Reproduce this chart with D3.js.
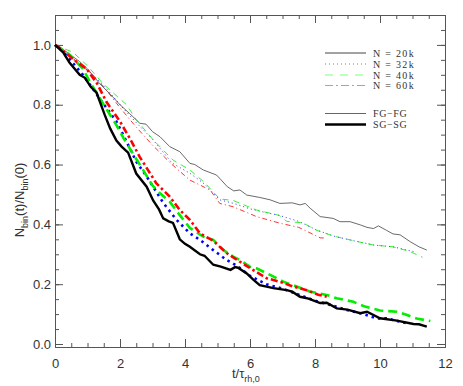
<!DOCTYPE html>
<html><head><meta charset="utf-8">
<script src="https://cdn.jsdelivr.net/npm/d3@7"></script>
<style>body{margin:0;background:#fff}svg{display:block}</style>
</head><body>
<script>
// ---- data ----
const xTicks = [0, 2, 4, 6, 8, 10, 12];
const yTicks = [0.0, 0.2, 0.4, 0.6, 0.8, 1.0];
const legendLabels = ["N = 20k", "N = 32k", "N = 40k", "N = 60k"];
const popLabels = ["FG\u2212FG", "SG\u2212SG"];

// FG-FG (thin) curves: [t, Nbin(t)/Nbin(0)]
const fg20 = [[0,1.0],[0.25,0.985],[0.5,0.965],[0.76,0.944],[1.0,0.92],[1.38,0.87],[1.7,0.835],[2.0,0.8],[2.3,0.77],[2.61,0.738],[2.8,0.735],[3.0,0.71],[3.23,0.693],[3.53,0.66],[3.84,0.643],[4.15,0.604],[4.3,0.6],[4.56,0.582],[4.97,0.565],[5.1,0.55],[5.3,0.526],[5.5,0.512],[5.69,0.515],[5.9,0.498],[6.3,0.49],[6.62,0.482],[6.92,0.47],[7.3,0.472],[7.54,0.465],[7.7,0.47],[7.85,0.454],[8.16,0.426],[8.56,0.42],[8.77,0.409],[9.08,0.409],[9.4,0.398],[9.6,0.39],[9.8,0.386],[9.95,0.395],[10.2,0.38],[10.4,0.368],[10.62,0.365],[10.93,0.342],[11.2,0.325],[11.44,0.314]];
const fg32 = [[0,1.0],[0.5,0.96],[1.0,0.915],[1.5,0.865],[2.0,0.8],[2.5,0.74],[3.0,0.685],[3.6,0.605],[4.15,0.571],[4.6,0.535],[5.07,0.482],[5.5,0.47],[6.0,0.452],[6.3,0.444],[6.9,0.43],[7.5,0.41],[8.05,0.381],[8.6,0.36],[9.2,0.345],[9.8,0.331],[10.4,0.325],[11.03,0.309]];
const fg40 = [[0,1.0],[0.56,0.975],[1.0,0.93],[1.48,0.87],[2.2,0.8],[2.5,0.75],[3.0,0.685],[3.63,0.615],[4.15,0.582],[4.6,0.54],[5.07,0.485],[5.48,0.48],[6.2,0.448],[6.9,0.43],[7.13,0.41],[7.63,0.405],[8.05,0.38],[8.6,0.36],[9.2,0.345],[9.8,0.331],[10.4,0.325],[10.9,0.31],[11.31,0.29]];
const fg60 = [[0,1.0],[0.5,0.955],[1.07,0.91],[1.5,0.86],[2.0,0.79],[2.5,0.725],[3.0,0.665],[3.6,0.6],[4.15,0.548],[4.77,0.515],[5.07,0.47],[5.48,0.459],[6.2,0.426],[6.92,0.404],[7.5,0.39],[8.16,0.355],[8.36,0.354]];

// SG-SG (thick) curves
const sg20 = [[0,1.0],[0.25,0.975],[0.45,0.94],[0.76,0.9],[0.92,0.89],[1.1,0.86],[1.28,0.84],[1.53,0.766],[1.7,0.72],[1.89,0.68],[2.05,0.66],[2.25,0.64],[2.5,0.57],[2.82,0.526],[3.02,0.48],[3.2,0.45],[3.33,0.42],[3.5,0.41],[3.63,0.405],[3.84,0.35],[4.0,0.335],[4.15,0.325],[4.46,0.3],[4.6,0.295],[4.87,0.265],[5.1,0.259],[5.4,0.248],[5.54,0.257],[5.63,0.255],[5.9,0.236],[6.1,0.215],[6.3,0.197],[6.72,0.187],[7.13,0.18],[7.3,0.175],[7.54,0.158],[7.8,0.152],[8.16,0.137],[8.36,0.138],[8.67,0.119],[9.0,0.115],[9.39,0.103],[9.6,0.108],[10.0,0.086],[10.52,0.078],[11.03,0.067],[11.2,0.066],[11.44,0.058]];
const sg32 = [[0,1.0],[0.25,0.978],[0.86,0.9],[1.38,0.82],[1.89,0.744],[2.2,0.677],[2.5,0.61],[2.82,0.56],[3.33,0.472],[3.74,0.415],[4.15,0.37],[4.46,0.348],[4.87,0.314],[5.28,0.281],[5.59,0.262],[6.0,0.228],[6.5,0.2],[7.0,0.185],[7.5,0.165],[8.0,0.145],[8.5,0.13],[8.98,0.114],[9.5,0.1],[9.9,0.085],[10.2,0.086],[10.5,0.078],[10.83,0.069]];
const sg40 = [[0,1.0],[0.45,0.967],[0.86,0.92],[1.07,0.877],[1.5,0.8],[1.89,0.732],[2.1,0.69],[2.3,0.654],[2.71,0.582],[3.0,0.53],[3.23,0.504],[3.53,0.476],[3.84,0.431],[4.15,0.388],[4.56,0.359],[4.87,0.348],[5.18,0.314],[5.48,0.292],[5.7,0.28],[6.0,0.258],[6.2,0.253],[6.62,0.231],[7.03,0.208],[7.44,0.192],[7.85,0.175],[8.36,0.164],[8.67,0.153],[9.18,0.141],[9.54,0.125],[10.0,0.112],[10.52,0.108],[10.83,0.097],[11.13,0.085],[11.55,0.077]];
const sg60 = [[0,1.0],[0.14,0.99],[0.66,0.944],[0.97,0.92],[1.3,0.87],[1.58,0.81],[2.0,0.744],[2.3,0.688],[2.61,0.625],[3.12,0.537],[3.53,0.493],[3.84,0.448],[4.15,0.415],[4.46,0.37],[4.87,0.345],[5.28,0.304],[5.69,0.275],[6.1,0.247],[6.51,0.22],[6.92,0.208],[7.33,0.192],[7.75,0.18],[8.1,0.165],[8.36,0.158]];

// ---- layout ----
const W = 463, H = 386;
const x = d3.scaleLinear().domain([0, 12]).range([55, 445]);
const y = d3.scaleLinear().domain([-0.01, 1.1]).range([347, 15]);

const svg = d3.select("body").append("svg").attr("width", W).attr("height", H);

const axisColor = "#555";
const tickFont = "'Liberation Sans', Arial, sans-serif";

function styleAxis(g) {
  g.select(".domain").attr("stroke", axisColor).attr("stroke-width", 1);
  g.selectAll(".tick line").attr("stroke", axisColor).attr("stroke-width", 1);
  g.selectAll(".tick text").attr("fill", "#333").style("font-family", tickFont).style("font-size", "13px");
}
const xMinor = d3.range(0, 12.01, 0.5);
const yMinor = d3.range(0, 1.101, 0.05);

// bottom
svg.append("g").attr("transform", `translate(0,${y.range()[0]})`)
  .call(d3.axisBottom(x).tickValues(xMinor).tickSize(-4).tickFormat("").tickSizeOuter(0)).call(styleAxis);
svg.append("g").attr("transform", `translate(0,${y.range()[0]})`)
  .call(d3.axisBottom(x).tickValues(xTicks).tickSize(-8).tickPadding(12).tickFormat(d3.format("d")).tickSizeOuter(0)).call(styleAxis);
// top
svg.append("g").attr("transform", `translate(0,${y.range()[1]})`)
  .call(d3.axisTop(x).tickValues(xMinor).tickSize(-4).tickFormat("").tickSizeOuter(0)).call(styleAxis);
svg.append("g").attr("transform", `translate(0,${y.range()[1]})`)
  .call(d3.axisTop(x).tickValues(xTicks).tickSize(-8).tickFormat("").tickSizeOuter(0)).call(styleAxis);
// left
svg.append("g").attr("transform", `translate(${x.range()[0]},0)`)
  .call(d3.axisLeft(y).tickValues(yMinor).tickSize(-4).tickFormat("").tickSizeOuter(0)).call(styleAxis);
svg.append("g").attr("transform", `translate(${x.range()[0]},0)`)
  .call(d3.axisLeft(y).tickValues(yTicks).tickSize(-8).tickPadding(4).tickFormat(d3.format(".1f")).tickSizeOuter(0)).call(styleAxis);
// right
svg.append("g").attr("transform", `translate(${x.range()[1]},0)`)
  .call(d3.axisRight(y).tickValues(yMinor).tickSize(-4).tickFormat("").tickSizeOuter(0)).call(styleAxis);
svg.append("g").attr("transform", `translate(${x.range()[1]},0)`)
  .call(d3.axisRight(y).tickValues(yTicks).tickSize(-8).tickFormat("").tickSizeOuter(0)).call(styleAxis);

// ---- curves ----
const line = d3.line().x(d => x(d[0])).y(d => y(d[1]));
const thinStyles = [
  {data: fg20, color: "#444", dash: null},
  {data: fg32, color: "#0000ff", dash: "1,3"},
  {data: fg40, color: "#00ee00", dash: "6,5"},
  {data: fg60, color: "#ff0000", dash: "5,3,1,3"}
];
const thickStyles = [
  {data: sg20, color: "#000", dash: null},
  {data: sg32, color: "#0000ff", dash: "2.5,4"},
  {data: sg40, color: "#00ee00", dash: "9,5"},
  {data: sg60, color: "#ff0000", dash: "7,3,2.5,3"}
];
const plot = svg.append("g");
thinStyles.forEach(s => {
  plot.append("path").attr("d", line(s.data)).attr("fill", "none")
    .attr("stroke", s.color).attr("stroke-width", 0.8)
    .attr("stroke-dasharray", s.dash);
});
thickStyles.slice(1).forEach(s => {
  plot.append("path").attr("d", line(s.data)).attr("fill", "none")
    .attr("stroke", s.color).attr("stroke-width", 2.6)
    .attr("stroke-dasharray", s.dash);
});
plot.append("path").attr("d", line(thickStyles[0].data)).attr("fill", "none")
  .attr("stroke", "#000").attr("stroke-width", 2.4);

// ---- legend ----
const legFont = "'Liberation Serif', 'DejaVu Serif', serif";
const leg = svg.append("g");
const legColors = ["#444", "#6a6aff", "#7dff7d", "#ff8080"];
const legDash = [null, "1,3", "8,7", "8,3,2,3"];
const legY = [53, 64, 75, 85.5];
legendLabels.forEach((t, i) => {
  leg.append("line").attr("x1", 325).attr("x2", 366).attr("y1", legY[i]).attr("y2", legY[i])
    .attr("stroke", legColors[i]).attr("stroke-width", 1).attr("stroke-dasharray", legDash[i]);
  leg.append("text").attr("x", 373).attr("y", legY[i] + 3.5).text(t)
    .style("font-family", legFont).style("font-size", "10px").style("letter-spacing", "1.3px")
    .attr("fill", "#333");
});
const popY = [113.5, 124.5];
popLabels.forEach((t, i) => {
  leg.append("line").attr("x1", 325).attr("x2", 366).attr("y1", popY[i]).attr("y2", popY[i])
    .attr("stroke", i === 0 ? "#666" : "#000").attr("stroke-width", i === 0 ? 1 : 2.4);
  leg.append("text").attr("x", 373).attr("y", popY[i] + 3.5).text(t)
    .style("font-family", legFont).style("font-size", "10px").style("letter-spacing", "0.6px")
    .attr("fill", "#333");
});

// ---- axis titles ----
const xl = svg.append("text").attr("x", 232).attr("y", 378)
  .style("font-family", tickFont).style("font-size", "13px").attr("fill", "#333");
xl.append("tspan").text("t/\u03c4");
xl.append("tspan").text("rh,0").attr("dy", 4).style("font-size", "9px");

const yl = svg.append("text").attr("transform", "translate(24,200) rotate(-90)")
  .attr("text-anchor", "middle")
  .style("font-family", tickFont).style("font-size", "13px").attr("fill", "#333");
yl.append("tspan").text("N");
yl.append("tspan").text("bin").attr("dy", 4).style("font-size", "9px");
yl.append("tspan").text("(t)/N").attr("dy", -4);
yl.append("tspan").text("bin").attr("dy", 4).style("font-size", "9px");
yl.append("tspan").text("(0)").attr("dy", -4);
</script>
</body></html>
